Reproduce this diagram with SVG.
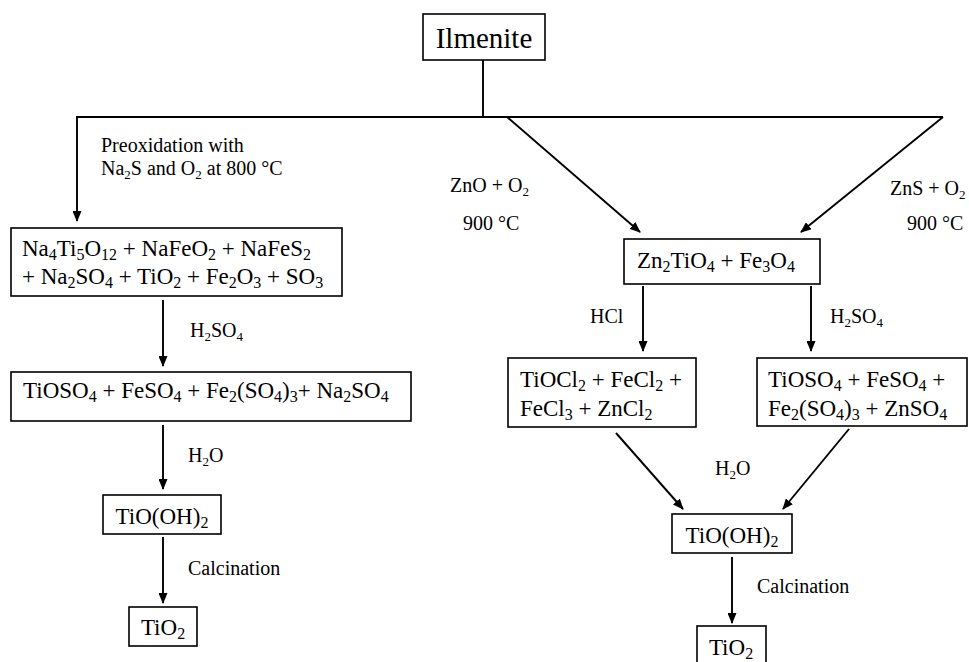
<svg xmlns="http://www.w3.org/2000/svg" width="969" height="662" viewBox="0 0 969 662" font-family="'Liberation Serif', 'DejaVu Serif', serif">
<defs>
<marker id="ah" markerUnits="userSpaceOnUse" markerWidth="11" markerHeight="9" refX="10" refY="4.5" orient="auto">
<path d="M0,0 L11,4.5 L0,9 z" fill="#000"/>
</marker>
<style>
text{font-family:'Liberation Serif','DejaVu Serif',serif;fill:#000}
.b{font-size:23px}
.l{font-size:20px}
.t{font-size:29px}
.s{font-size:16px;baseline-shift:-4px}
.sl{font-size:13px;baseline-shift:-4px}
rect{fill:#fff;stroke:#000;stroke-width:1.6}
.c line{stroke:#000;stroke-width:1.9;fill:none}
.c .a{marker-end:url(#ah)}
</style>
</defs>
<rect x="0" y="0" width="969" height="662" style="fill:#fff;stroke:none"/>

<g id="connectors" class="c">
<line x1="483" y1="60" x2="483" y2="117"/>
<line x1="76" y1="117" x2="943" y2="117"/>
<line class="a" x1="77" y1="117" x2="77" y2="221"/>
<line class="a" x1="507" y1="117" x2="640" y2="232"/>
<line class="a" x1="943" y1="117" x2="801" y2="232"/>
<line class="a" x1="163" y1="300" x2="163" y2="366"/>
<line class="a" x1="163" y1="425" x2="163" y2="489"/>
<line class="a" x1="163" y1="537" x2="163" y2="603"/>
<line class="a" x1="643" y1="286" x2="643" y2="351"/>
<line class="a" x1="811" y1="286" x2="811" y2="351"/>
<line class="a" x1="616" y1="433" x2="683" y2="509"/>
<line class="a" x1="849" y1="429" x2="783" y2="509"/>
<line class="a" x1="732" y1="557" x2="732" y2="623"/>
</g>

<g id="labels">
<text class="l" x="101" y="152">Preoxidation with</text>
<text class="l" x="101" y="175">Na<tspan class="sl">2</tspan>S and O<tspan class="sl">2</tspan> at 800 °C</text>
<text class="l" x="450" y="192">ZnO + O<tspan class="sl">2</tspan></text>
<text class="l" x="463" y="230">900 °C</text>
<text class="l" x="890" y="195">ZnS + O<tspan class="sl">2</tspan></text>
<text class="l" x="907" y="230">900 °C</text>
<text class="l" x="190" y="337">H<tspan class="sl">2</tspan>SO<tspan class="sl">4</tspan></text>
<text class="l" x="188" y="462">H<tspan class="sl">2</tspan>O</text>
<text class="l" x="188" y="575">Calcination</text>
<text class="l" x="590" y="323">HCl</text>
<text class="l" x="830" y="323">H<tspan class="sl">2</tspan>SO<tspan class="sl">4</tspan></text>
<text class="l" x="715" y="475">H<tspan class="sl">2</tspan>O</text>
<text class="l" x="757" y="593">Calcination</text>
</g>

<g id="ilmenite">
<rect x="423" y="14" width="122" height="46"/>
<text class="t" x="484" y="48" text-anchor="middle">Ilmenite</text>
</g>

<g id="preox-products">
<rect x="11" y="228" width="331" height="68"/>
<text class="b" x="22" y="256">Na<tspan class="s">4</tspan>Ti<tspan class="s">5</tspan>O<tspan class="s">12</tspan> + NaFeO<tspan class="s">2</tspan> + NaFeS<tspan class="s">2</tspan></text>
<text class="b" x="22" y="284">+ Na<tspan class="s">2</tspan>SO<tspan class="s">4</tspan> + TiO<tspan class="s">2</tspan> + Fe<tspan class="s">2</tspan>O<tspan class="s">3</tspan> + SO<tspan class="s">3</tspan></text>
</g>

<g id="sulfates-left">
<rect x="11" y="372" width="400" height="49"/>
<text class="b" x="23" y="398">TiOSO<tspan class="s">4</tspan> + FeSO<tspan class="s">4</tspan> + Fe<tspan class="s">2</tspan>(SO<tspan class="s">4</tspan>)<tspan class="s">3</tspan>+ Na<tspan class="s">2</tspan>SO<tspan class="s">4</tspan></text>
</g>

<g id="tiooh-left">
<rect x="103" y="495" width="118" height="39"/>
<text class="b" x="162" y="524" text-anchor="middle">TiO(OH)<tspan class="s">2</tspan></text>
</g>

<g id="tio2-left">
<rect x="129" y="607" width="68" height="39"/>
<text class="b" x="163" y="635" text-anchor="middle">TiO<tspan class="s">2</tspan></text>
</g>

<g id="zn-titanate">
<rect x="624" y="239" width="196" height="45"/>
<text class="b" x="637" y="268">Zn<tspan class="s">2</tspan>TiO<tspan class="s">4</tspan> + Fe<tspan class="s">3</tspan>O<tspan class="s">4</tspan></text>
</g>

<g id="chlorides">
<rect x="508" y="358" width="188" height="69"/>
<text class="b" x="520" y="387">TiOCl<tspan class="s">2</tspan> + FeCl<tspan class="s">2</tspan> +</text>
<text class="b" x="520" y="416">FeCl<tspan class="s">3</tspan> + ZnCl<tspan class="s">2</tspan></text>
</g>

<g id="sulfates-right">
<rect x="757" y="358" width="210" height="68"/>
<text class="b" x="768" y="387">TiOSO<tspan class="s">4</tspan> + FeSO<tspan class="s">4</tspan> +</text>
<text class="b" x="768" y="416">Fe<tspan class="s">2</tspan>(SO<tspan class="s">4</tspan>)<tspan class="s">3</tspan> + ZnSO<tspan class="s">4</tspan></text>
</g>

<g id="tiooh-right">
<rect x="672" y="514" width="120" height="39"/>
<text class="b" x="732" y="543" text-anchor="middle">TiO(OH)<tspan class="s">2</tspan></text>
</g>

<g id="tio2-right">
<rect x="697" y="626" width="69" height="40"/>
<text class="b" x="731" y="655" text-anchor="middle">TiO<tspan class="s">2</tspan></text>
</g>
</svg>
